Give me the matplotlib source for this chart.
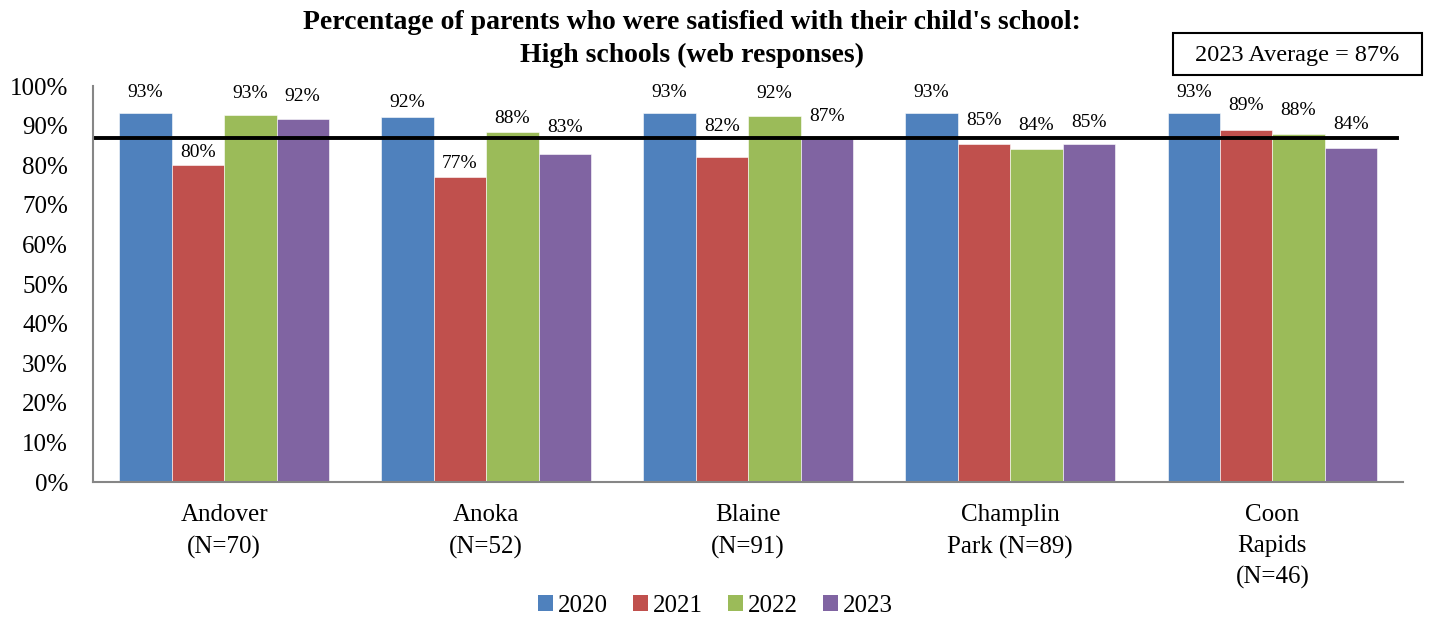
import matplotlib
matplotlib.use("Agg")
import matplotlib.pyplot as plt
import numpy as np
from matplotlib.patches import Patch, Rectangle

plt.rcParams["font.family"] = ["Liberation Serif", "DejaVu Serif"]

# Daten
schools = ["Andover\n(N=70)", "Anoka\n(N=52)", "Blaine\n(N=91)",
           "Champlin\nPark (N=89)", "Coon\nRapids\n(N=46)"]
years = ["2020", "2021", "2022", "2023"]
pct_2020 = [93.2, 92.2, 93.2, 93.2, 93.2]
pct_2021 = [80.0, 77.1, 82.2, 85.3, 88.9]
pct_2022 = [92.6, 88.3, 92.4, 84.0, 88.0]
pct_2023 = [91.8, 82.8, 86.9, 85.3, 84.4]
avg_2023 = 87
colors = ["#4F81BD", "#C0504D", "#9BBB59", "#8064A2"]

series = [pct_2020, pct_2021, pct_2022, pct_2023]

# Abstand der Beschriftung über dem Balken (Pixel), wie im Original verschoben
label_lift = [
    [20, 14, 20, 20, 20],
    [13, 13, 30, 24, 24],
    [22, 14, 23, 24, 23],
    [22, 27, 21, 22, 23],
]

fig = plt.figure(figsize=(14.32, 6.19), dpi=100)
ax = fig.add_axes([0.065, 0.2213, 0.915, 0.6397])

x = np.arange(len(schools))
width = 0.2
for i, (vals, col) in enumerate(zip(series, colors)):
    pos = x + (i - 1.5) * width
    ax.bar(pos, vals, width=width, color=col, edgecolor="white", linewidth=0.4)
    for j, (px, v) in enumerate(zip(pos, vals)):
        ax.annotate(f"{v:.0f}%", (px, v), xytext=(0, label_lift[i][j] * 0.72),
                    textcoords="offset points", ha="center", va="center", fontsize=14)

# Durchschnittslinie
ax.axhline(avg_2023, xmin=0, xmax=0.995, color="black", linewidth=2.8)

ax.set_xlim(-0.5, len(schools) - 0.5)
ax.set_ylim(0, 100)
ax.set_yticks(range(0, 101, 10))
ax.set_yticklabels([f"{t}%" for t in range(0, 101, 10)], fontsize=18)
ax.set_xticks(x)
ax.set_xticklabels(schools, fontsize=18, linespacing=1.52)
ax.tick_params(axis="both", length=0)
ax.tick_params(axis="y", pad=18)
ax.tick_params(axis="x", pad=16)
for s in ["top", "right"]:
    ax.spines[s].set_visible(False)
for s in ["left", "bottom"]:
    ax.spines[s].set_color("#868686")
    ax.spines[s].set_linewidth(1.5)

fig.text(0.483, 1 - 39 / 619,
         "Percentage of parents who were satisfied with their child's school:\nHigh schools (web responses)",
         ha="center", va="center", fontsize=20, fontweight="bold", linespacing=1.45)

# Kasten mit Durchschnitt
fig.patches.append(Rectangle((1173 / 1432, 1 - 75 / 619), 249 / 1432, 42 / 619,
                             transform=fig.transFigure, fill=False, edgecolor="black", linewidth=1.5))
fig.text(1297 / 1432, 1 - 55 / 619, f"2023 Average = {avg_2023}%", ha="center", va="center", fontsize=17.5)

handles = [Patch(facecolor=c, label=y) for c, y in zip(colors, years)]
fig.legend(handles=handles, loc="center", bbox_to_anchor=(715 / 1432, 1 - 606 / 619), ncol=4,
           frameon=False, fontsize=18, handlelength=0.6, handleheight=0.6,
           handletextpad=0.2, columnspacing=1.0)

plt.savefig("out.png", dpi=100)
plt.close()
